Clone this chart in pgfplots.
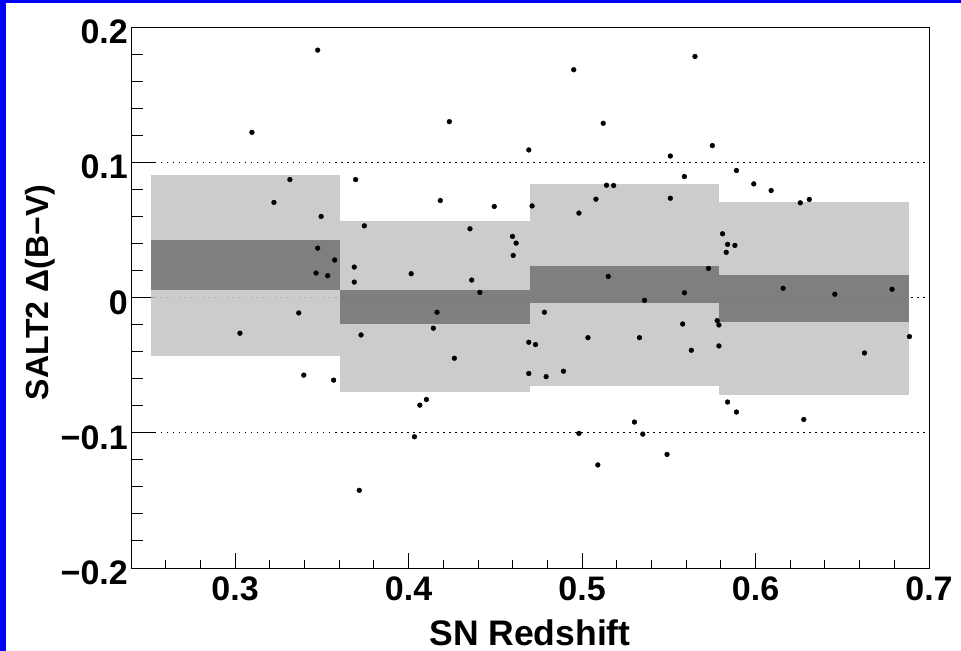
\documentclass[border=0pt]{standalone}
\usepackage{fontspec}
\setmainfont{Liberation Sans}
\usepackage{pgfplots}
\pgfplotsset{compat=1.18}
\definecolor{lightband}{gray}{0.765}
\definecolor{darkband}{gray}{0.447}
\definecolor{rootblue}{RGB}{0,0,255}
\newcommand{\lf}{\fontsize{34bp}{40bp}\selectfont\bfseries}

\pgfplotstableread{
x y
0.3476 0.1829
0.3097 0.1221
0.3316 0.0872
0.3695 0.0872
0.3224 0.0703
0.3496 0.0599
0.3745 0.0530
0.3476 0.0365
0.3574 0.0277
0.3687 0.0225
0.3467 0.0181
0.3534 0.0161
0.3687 0.0114
0.4952 0.1684
0.4235 0.1300
0.5122 0.1288
0.4693 0.1091
0.5509 0.1046
0.4183 0.0717
0.4494 0.0673
0.4712 0.0677
0.5080 0.0727
0.4982 0.0624
0.5141 0.0830
0.5182 0.0828
0.5509 0.0734
0.4354 0.0508
0.4599 0.0452
0.4620 0.0402
0.4603 0.0311
0.4015 0.0176
0.4364 0.0129
0.4411 0.0038
0.5151 0.0156
0.5360 -0.0021
0.5651 0.1782
0.5751 0.1123
0.5590 0.0894
0.5890 0.0939
0.5990 0.0840
0.6090 0.0791
0.6258 0.0700
0.6310 0.0725
0.5810 0.0471
0.5839 0.0393
0.5881 0.0385
0.5831 0.0334
0.5729 0.0215
0.5590 0.0035
0.6159 0.0068
0.6457 0.0024
0.6787 0.0061
0.3367 -0.0114
0.3028 -0.0264
0.3726 -0.0277
0.3396 -0.0574
0.3568 -0.0611
0.3716 -0.1426
0.4164 -0.0109
0.4783 -0.0109
0.4143 -0.0227
0.4693 -0.0331
0.4732 -0.0348
0.5034 -0.0297
0.5331 -0.0297
0.4264 -0.0449
0.4693 -0.0562
0.4793 -0.0585
0.4893 -0.0545
0.4103 -0.0754
0.4065 -0.0796
0.4034 -0.1030
0.4982 -0.1005
0.5091 -0.1238
0.5302 -0.0921
0.5350 -0.1010
0.5490 -0.1160
0.5580 -0.0196
0.5779 -0.0171
0.5789 -0.0203
0.5630 -0.0390
0.5789 -0.0358
0.6887 -0.0289
0.6628 -0.0410
0.5839 -0.0773
0.5890 -0.0847
0.6278 -0.0902
}\sndata

\begin{document}
\begin{tikzpicture}
\begin{axis}[
  at={(0,0)}, anchor=south west,
  scale only axis, width=798bp, height=541bp,
  xmin=0.24, xmax=0.70, ymin=-0.2, ymax=0.2,
  axis line style={line width=0.9bp},
  xtick=\empty,
  ytick={-0.2,-0.1,0,0.1,0.2},
  yticklabels={−0.2,−0.1,0,0.1,0.2},
  minor ytick={-0.18,-0.16,-0.14,-0.12,-0.08,-0.06,-0.04,-0.02,0.02,0.04,0.06,0.08,0.12,0.14,0.16,0.18},
  tick pos=left, tick align=inside,
  major tick length=25bp, minor tick length=12.5bp,
  every tick/.style={black, line width=0.9bp},
  yticklabel style={font=\lf, inner sep=0pt, xshift=-3bp, yshift=-5bp},
  ylabel={SALT2 Δ(B−V)},
  ylabel style={font=\fontsize{32bp}{38bp}\selectfont\bfseries, at={(axis description cs:-0.114,0.509)}, anchor=center, inner sep=0pt},
]
% reference lines
\addplot[black, line width=1bp, dash pattern=on 1.5bp off 4.5bp] coordinates {(0.24,0.1) (0.70,0.1)};
\addplot[black, line width=1bp, dash pattern=on 1.5bp off 4.5bp] coordinates {(0.24,0) (0.70,0)};
\addplot[black, line width=1bp, dash pattern=on 1.5bp off 4.5bp] coordinates {(0.24,-0.1) (0.70,-0.1)};
% light bands
\addplot[draw=none, fill=lightband, fill opacity=0.85] coordinates {(0.2513,-0.0432) (0.3605,-0.0432) (0.3605,0.0909) (0.2513,0.0909)} -- cycle;
\addplot[draw=none, fill=lightband, fill opacity=0.85] coordinates {(0.3605,-0.0702) (0.4700,-0.0702) (0.4700,0.0565) (0.3605,0.0565)} -- cycle;
\addplot[draw=none, fill=lightband, fill opacity=0.85] coordinates {(0.4700,-0.0651) (0.5790,-0.0651) (0.5790,0.0840) (0.4700,0.0840)} -- cycle;
\addplot[draw=none, fill=lightband, fill opacity=0.85] coordinates {(0.5790,-0.0720) (0.6887,-0.0720) (0.6887,0.0705) (0.5790,0.0705)} -- cycle;
% dark bands
\addplot[draw=none, fill=darkband, fill opacity=0.85] coordinates {(0.2513,0.0055) (0.3605,0.0055) (0.3605,0.0422) (0.2513,0.0422)} -- cycle;
\addplot[draw=none, fill=darkband, fill opacity=0.85] coordinates {(0.3605,-0.0196) (0.4700,-0.0196) (0.4700,0.0055) (0.3605,0.0055)} -- cycle;
\addplot[draw=none, fill=darkband, fill opacity=0.85] coordinates {(0.4700,-0.0038) (0.5790,-0.0038) (0.5790,0.0230) (0.4700,0.0230)} -- cycle;
\addplot[draw=none, fill=darkband, fill opacity=0.85] coordinates {(0.5790,-0.0183) (0.6887,-0.0183) (0.6887,0.0164) (0.5790,0.0164)} -- cycle;
% points
\addplot[only marks, mark=*, mark size=2.4bp, black] table[x=x, y=y] {\sndata};
\end{axis}
\begin{axis}[
  at={(0,0)}, anchor=south west,
  scale only axis, width=798bp, height=541bp,
  xmin=0.24, xmax=0.70, ymin=-0.2, ymax=0.2,
  axis line style={line width=0.9bp},
  ytick=\empty,
  xtick={0.3,0.4,0.5,0.6,0.7},
  xticklabels={0.3,0.4,0.5,0.6,0.7},
  minor xtick={0.26,0.28,0.32,0.34,0.36,0.38,0.42,0.44,0.46,0.48,0.52,0.54,0.56,0.58,0.62,0.64,0.66,0.68},
  tick pos=left, tick align=inside,
  major tick length=15bp, minor tick length=8bp,
  every tick/.style={black, line width=0.9bp},
  xticklabel style={font=\lf, inner sep=0pt, yshift=-9bp},
  xlabel={SN Redshift},
  xlabel style={font=\fontsize{35.5bp}{42bp}\selectfont\bfseries, at={(axis description cs:0.5,0)}, anchor=base, inner sep=0pt, yshift=-77bp},
]
\end{axis}
\fill[rootblue] (-131bp,-83bp) rectangle (-125bp,568bp);
\fill[rootblue] (-131bp,565bp) rectangle (830bp,568bp);
\pgfresetboundingbox
\path[use as bounding box] (-131bp,-83bp) rectangle (830bp,568bp);
\end{tikzpicture}
\end{document}
